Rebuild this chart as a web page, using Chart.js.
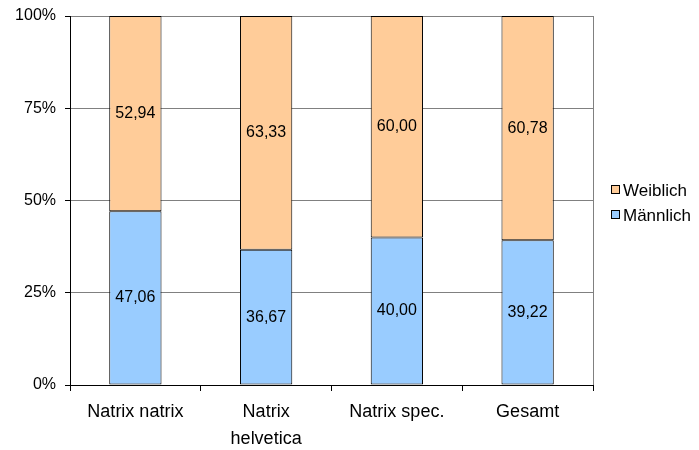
<!DOCTYPE html>
<html>
<head>
<meta charset="utf-8">
<script src="https://cdn.jsdelivr.net/npm/chart.js@4"></script>
<style>
  body { margin: 0; background: #fff; }
  #wrap { width: 699px; height: 450px; }
</style>
</head>
<body>
<div id="wrap"><canvas id="sexChart"></canvas></div>
<script>
const categories = ['Natrix natrix', ['Natrix', 'helvetica'], 'Natrix spec.', 'Gesamt'];
const maennlich = [47.06, 36.67, 40.00, 39.22];
const weiblich = [52.94, 63.33, 60.00, 60.78];
const yTicks = [0, 25, 50, 75, 100];

const FONT = 'Liberation Sans, Arial, sans-serif';

// values in the middle of each segment, German decimal comma
const valueLabels = {
    id: 'valueLabels',
    afterDatasetsDraw(chart) {
        const ctx = chart.ctx;
        ctx.save();
        ctx.font = '16px ' + FONT;
        ctx.fillStyle = '#000';
        ctx.textAlign = 'center';
        ctx.textBaseline = 'middle';
        chart.data.datasets.forEach((ds, i) => {
            chart.getDatasetMeta(i).data.forEach((bar, j) => {
                const y = (bar.y + bar.base) / 2;
                ctx.fillText(ds.data[j].toFixed(2).replace('.', ','), bar.x, y);
            });
        });
        ctx.restore();
    }
};

// plot area right edge + legend on the right
const frameAndLegend = {
    id: 'frameAndLegend',
    afterDraw(chart) {
        const ctx = chart.ctx;
        const a = chart.chartArea;
        ctx.save();
        ctx.strokeStyle = '#808080';
        ctx.lineWidth = 1;
        ctx.beginPath();
        ctx.moveTo(a.right + 0.5, a.top);
        ctx.lineTo(a.right + 0.5, a.bottom);
        ctx.stroke();

        ctx.font = '17px ' + FONT;
        ctx.textBaseline = 'middle';
        const items = chart.data.datasets.slice().reverse();
        items.forEach((ds, i) => {
            const y = 190 + i * 25;
            ctx.fillStyle = ds.backgroundColor;
            ctx.fillRect(611.5, y - 4.5, 8, 8);
            ctx.strokeStyle = '#000';
            ctx.strokeRect(611.5, y - 4.5, 8, 8);
            ctx.fillStyle = '#000';
            ctx.fillText(ds.label, 623, y + 1);
        });
        ctx.restore();
    }
};

new Chart(document.getElementById('sexChart'), {
    type: 'bar',
    data: {
        labels: categories,
        datasets: [
            {
                label: 'Männlich',
                data: maennlich,
                backgroundColor: '#99CCFF',
                borderColor: '#000',
                borderWidth: 1,
                borderSkipped: false,
                barPercentage: 0.4,
                categoryPercentage: 1
            },
            {
                label: 'Weiblich',
                data: weiblich,
                backgroundColor: '#FFCC99',
                borderColor: '#000',
                borderWidth: 1,
                borderSkipped: false,
                barPercentage: 0.4,
                categoryPercentage: 1
            }
        ]
    },
    options: {
        responsive: true,
        maintainAspectRatio: false,
        animation: false,
        layout: { padding: { left: 0, right: 106, top: 16, bottom: 0 } },
        scales: {
            x: {
                stacked: true,
                offset: true,
                afterFit(axis) { axis.height = 65; },
                grid: { offset: true, drawOnChartArea: false, tickLength: 6, color: '#000' },
                border: { color: '#000' },
                ticks: {
                    color: '#000',
                    font: { family: FONT, size: 18, lineHeight: 1.5 },
                    padding: 8,
                    maxRotation: 0
                }
            },
            y: {
                stacked: true,
                min: 0,
                max: 100,
                afterFit(axis) {
                    axis.width = 70;
                    axis.paddingTop = 0;
                    axis.paddingBottom = 0;
                },
                afterBuildTicks(axis) { axis.ticks = yTicks.map(v => ({ value: v })); },
                grid: { color: '#808080', tickColor: '#000', tickLength: 5 },
                border: { color: '#000' },
                ticks: {
                    color: '#000',
                    font: { family: FONT, size: 16 },
                    padding: 9,
                    callback: v => v + '%'
                }
            }
        },
        plugins: {
            legend: { display: false },
            tooltip: { enabled: false }
        }
    },
    plugins: [valueLabels, frameAndLegend]
});
</script>
</body>
</html>
